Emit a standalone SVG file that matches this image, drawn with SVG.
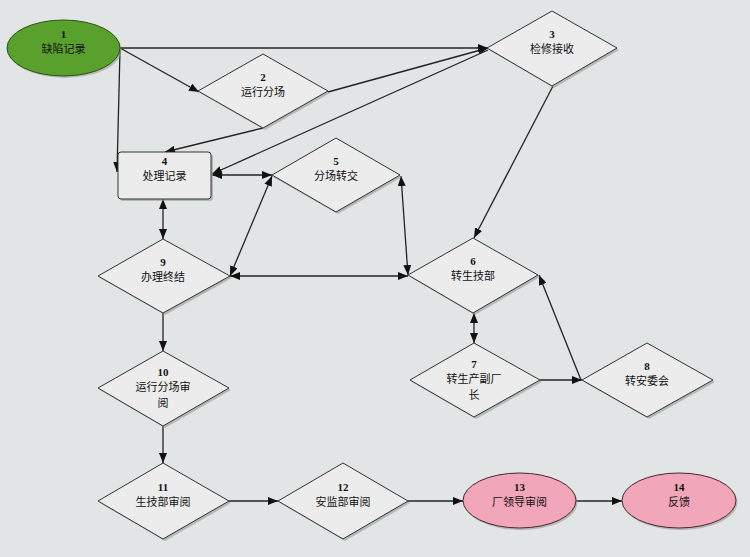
<svg xmlns="http://www.w3.org/2000/svg" width="750" height="557" viewBox="0 0 750 557">
<defs>
<marker id="ah" viewBox="0 0 10 8" refX="10" refY="4" markerWidth="10" markerHeight="8" markerUnits="userSpaceOnUse" orient="auto-start-reverse">
<path d="M0,0 L10,4 L0,8 z" fill="#111"/>
</marker>
<style>
.dia{fill:#ececec;stroke:#333;stroke-width:1}
.sh{fill:#9a9a9a;opacity:0.6}
.num{font-family:"Liberation Serif",serif;font-weight:bold;font-size:11px;fill:#111;text-anchor:middle}
.lbl{font-family:"Noto Sans CJK SC","Noto Sans",sans-serif;font-size:11px;fill:#111;text-anchor:middle}
.e{fill:none;stroke:#222;stroke-width:1.3}
.one{marker-end:url(#ah)}
.two{marker-start:url(#ah);marker-end:url(#ah)}
</style>
</defs>
<rect width="750" height="557" fill="#e1e5e6"/>

<g id="connectors">
<path class="e one" d="M120,48 L488,48"/>
<path class="e one" d="M120,48 L199,92"/>
<path class="e one" d="M120,50 L117,172"/>
<path class="e one" d="M263,128 L165,152"/>
<path class="e one" d="M328,92 L488,48"/>
<path class="e one" d="M488,50 L212,174"/>
<path class="e two" d="M212,175 L272,175"/>
<path class="e two" d="M163,199 L163,239"/>
<path class="e two" d="M230,276 L272,176"/>
<path class="e two" d="M230,276 L408,276"/>
<path class="e two" d="M401,176 L408,275"/>
<path class="e one" d="M553,86 L474,238"/>
<path class="e two" d="M474,313 L474,343"/>
<path class="e one" d="M540,380 L582,380"/>
<path class="e one" d="M581,380 L539,275"/>
<path class="e one" d="M163,313 L163,351"/>
<path class="e one" d="M163,426 L163,463"/>
<path class="e one" d="M229,501 L278,501"/>
<path class="e one" d="M408,501 L463,501"/>
<path class="e one" d="M576,501 L622,501"/>
</g>

<g id="n1">
<ellipse cx="65" cy="50" rx="56.5" ry="28" class="sh"/>
<ellipse cx="63.5" cy="48" rx="56.5" ry="28" fill="#5aa02c" stroke="#2c4f14" stroke-width="1"/>
<text class="num" x="63.5" y="38">1</text>
<text class="lbl" x="63.5" y="53">缺陷记录</text>
</g>

<g id="n2">
<path class="sh" d="M200,93 L265,56 L330,93 L265,130 z"/>
<path class="dia" d="M198,91 L263,54 L328,91 L263,128 z"/>
<text class="num" x="263" y="81">2</text>
<text class="lbl" x="263" y="96">运行分场</text>
</g>

<g id="n3">
<path class="sh" d="M489,50 L554,13 L619,50 L554,88 z"/>
<path class="dia" d="M487,48 L552,11 L617,48 L552,86 z"/>
<text class="num" x="552" y="38">3</text>
<text class="lbl" x="552" y="53">检修接收</text>
</g>

<g id="n4">
<rect x="120" y="154" width="93" height="47" rx="3" class="sh"/>
<rect x="118" y="152" width="93" height="47" rx="3" class="dia"/>
<text class="num" x="164.5" y="165">4</text>
<text class="lbl" x="164.5" y="180">处理记录</text>
</g>

<g id="n5">
<path class="sh" d="M273,177 L338,140 L402,177 L338,214 z"/>
<path class="dia" d="M272,175 L336,138 L400,175 L336,212 z"/>
<text class="num" x="336" y="165">5</text>
<text class="lbl" x="336" y="180">分场转交</text>
</g>

<g id="n6">
<path class="sh" d="M410,277 L475,240 L540,277 L475,315 z"/>
<path class="dia" d="M408,275 L473,238 L538,275 L473,313 z"/>
<text class="num" x="473" y="265">6</text>
<text class="lbl" x="473" y="280">转生技部</text>
</g>

<g id="n7">
<path class="sh" d="M412,382 L476,345 L542,382 L476,419 z"/>
<path class="dia" d="M410,380 L474,343 L540,380 L474,417 z"/>
<text class="num" x="474" y="368">7</text>
<text class="lbl" x="474" y="383">转生产副厂</text>
<text class="lbl" x="474" y="399">长</text>
</g>

<g id="n8">
<path class="sh" d="M584,382 L649,345 L715,382 L649,419 z"/>
<path class="dia" d="M582,380 L647,343 L713,380 L647,417 z"/>
<text class="num" x="647" y="370">8</text>
<text class="lbl" x="647" y="385">转安委会</text>
</g>

<g id="n9">
<path class="sh" d="M100,278 L165,241 L232,278 L165,315 z"/>
<path class="dia" d="M98,276 L163,239 L230,276 L163,313 z"/>
<text class="num" x="163" y="266">9</text>
<text class="lbl" x="163" y="281">办理终结</text>
</g>

<g id="n10">
<path class="sh" d="M100,390 L165,353 L231,390 L165,428 z"/>
<path class="dia" d="M98,388 L163,351 L229,388 L163,426 z"/>
<text class="num" x="163" y="376">10</text>
<text class="lbl" x="163" y="391">运行分场审</text>
<text class="lbl" x="163" y="407">阅</text>
</g>

<g id="n11">
<path class="sh" d="M100,503 L165,465 L231,503 L165,541 z"/>
<path class="dia" d="M98,501 L163,463 L229,501 L163,539 z"/>
<text class="num" x="163" y="491">11</text>
<text class="lbl" x="163" y="506">生技部审阅</text>
</g>

<g id="n12">
<path class="sh" d="M280,503 L345,465 L410,503 L345,541 z"/>
<path class="dia" d="M278,501 L343,463 L408,501 L343,539 z"/>
<text class="num" x="343" y="491">12</text>
<text class="lbl" x="343" y="506">安监部审阅</text>
</g>

<g id="n13">
<ellipse cx="521" cy="502.5" rx="56.5" ry="27.5" class="sh"/>
<ellipse cx="519.5" cy="500.5" rx="56.5" ry="27.5" fill="#f2a6ba" stroke="#4a2630" stroke-width="1"/>
<text class="num" x="519.5" y="491">13</text>
<text class="lbl" x="519.5" y="506">厂领导审阅</text>
</g>

<g id="n14">
<ellipse cx="680.5" cy="502.5" rx="57" ry="27.5" class="sh"/>
<ellipse cx="679" cy="500.5" rx="57" ry="27.5" fill="#f2a6ba" stroke="#4a2630" stroke-width="1"/>
<text class="num" x="679" y="491">14</text>
<text class="lbl" x="679" y="506">反馈</text>
</g>
</svg>
